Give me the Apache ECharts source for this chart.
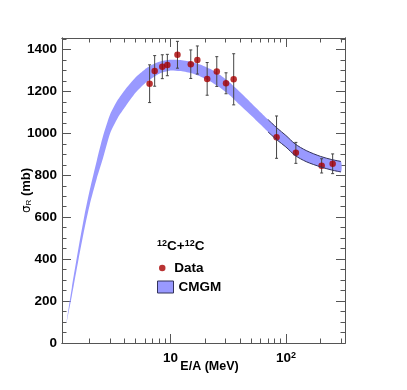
<!DOCTYPE html>
<html>
<head>
<meta charset="utf-8">
<script src="https://cdn.jsdelivr.net/npm/echarts@6/dist/echarts.min.js"></script>
<style>
  html, body { margin: 0; background: #fff; }
  #chart { width: 407px; height: 390px; }
</style>
</head>
<body>
<div id="chart"></div>
<script>
// 12C+12C reaction cross section: data points and CMGM band
const dataEnergy = [6.6, 7.3, 8.5, 9.4, 11.5, 15.0, 17.1, 20.8, 25.2, 30.3, 35.3, 83, 122, 204, 254]
const dataSigma = [1237, 1298, 1318, 1326, 1375, 1330, 1350, 1260, 1295, 1239, 1258, 982, 907, 845, 855]
const dataError = [90, 73, 57, 51, 64, 68, 67, 78, 71, 50, 122, 101, 50, 34, 47]

const bandEnergy = [1.26, 1.4, 1.6, 1.8, 2.0, 2.3, 2.6, 3.0, 3.5, 4.0, 5.0, 6.0, 7.0, 8.0, 10, 12, 15, 18, 22, 27, 33, 40, 50, 60, 70, 84, 100, 120, 150, 200, 250, 300]
const bandUpper = [102, 265, 455, 610, 730, 870, 985, 1090, 1160, 1205, 1268, 1305, 1328, 1342, 1351, 1350, 1342, 1329, 1308, 1278, 1240, 1197, 1145, 1102, 1066, 1025, 990, 950, 918, 890, 875, 866]
const bandLower = [97, 225, 400, 545, 660, 785, 880, 1000, 1075, 1122, 1195, 1238, 1265, 1285, 1300, 1297, 1288, 1273, 1249, 1218, 1180, 1135, 1085, 1043, 1007, 968, 935, 895, 865, 840, 825, 816]

const majorTicksX = [10, 100]
const minorTicksX = [2, 3, 4, 5, 6, 7, 8, 9, 20, 30, 40, 50, 60, 70, 80, 90, 200, 300]
const majorTicksY = [0, 200, 400, 600, 800, 1000, 1200, 1400]
const minorTicksY = [50, 100, 150, 250, 300, 350, 450, 500, 550, 650, 700, 750, 850, 900, 950,
  1050, 1100, 1150, 1250, 1300, 1350, 1450]

const font = 'Liberation Sans'
const frameColor = '#555'
const edgeStart = bandEnergy.indexOf(70)

const chart = echarts.init(document.getElementById('chart'))

function makeX(position, ticks, len, withLabels) {
  return {
    type: 'log',
    min: 1.15,
    max: 325,
    position: position,
    axisLine: { show: true, onZero: false, lineStyle: { color: frameColor, width: 1 } },
    axisTick: { show: true, inside: true, length: len, customValues: ticks, lineStyle: { color: frameColor } },
    axisLabel: withLabels ? {
      customValues: majorTicksX,
      margin: 8,
      formatter: v => (v === 100 ? '{n|10}{sup|2}' : '{n|10}'),
      rich: {
        n: { fontFamily: font, fontWeight: 'bold', fontSize: 13.5, color: '#000' },
        sup: { fontFamily: font, fontWeight: 'bold', fontSize: 9, color: '#000', verticalAlign: 'top' },
      },
    } : { show: false },
    splitLine: { show: false },
    name: withLabels ? 'E/A (MeV)' : '',
    nameLocation: 'middle',
    nameGap: 17,
    nameMoveOverlap: false,
    nameTextStyle: { fontFamily: font, fontWeight: 'bold', fontSize: 12.5, color: '#000', padding: [0, 0, 0, 12] },
  }
}

function makeY(position, ticks, len, withLabels) {
  return {
    type: 'value',
    min: 0,
    max: 1455,
    position: position,
    axisLine: { show: true, onZero: false, lineStyle: { color: frameColor, width: 1 } },
    axisTick: { show: true, inside: true, length: len, customValues: ticks, lineStyle: { color: frameColor } },
    axisLabel: withLabels ? {
      customValues: majorTicksY,
      margin: 5,
      formatter: v => String(v),
      fontFamily: font,
      fontWeight: 'bold',
      fontSize: 13.5,
      color: '#000',
    } : { show: false },
    splitLine: { show: false },
    name: withLabels ? '{sig|σ}{sub|R}{b| (mb)}' : '',
    nameLocation: 'middle',
    nameRotate: 90,
    nameGap: 29,
    nameMoveOverlap: false,
    nameTextStyle: {
      rich: {
        sig: { fontFamily: 'DejaVu Sans', fontSize: 12, color: '#000' },
        sub: { fontFamily: font, fontSize: 8, color: '#000', verticalAlign: 'bottom' },
        b: { fontFamily: font, fontWeight: 'bold', fontSize: 13, color: '#000' },
      },
    },
  }
}

const option = {
  animation: false,
  grid: { left: 62, right: 62, top: 38, bottom: 47, outerBoundsMode: 'none' },
  xAxis: [
    makeX('bottom', majorTicksX, 9, true),
    makeX('bottom', minorTicksX, 4.5, false),
    makeX('top', majorTicksX, 9, false),
    makeX('top', minorTicksX, 4.5, false),
  ],
  yAxis: [
    makeY('left', majorTicksY, 9, true),
    makeY('left', minorTicksY, 4.5, false),
    makeY('right', majorTicksY, 9, false),
    makeY('right', minorTicksY, 4.5, false),
  ],
  legend: [
    {
      left: 159, top: 261, padding: 0, itemWidth: 14, itemHeight: 6.5,
      data: [{ name: 'Data', icon: 'circle' }],
      textStyle: { fontFamily: font, fontWeight: 'bold', fontSize: 13.5, color: '#000' },
    },
    {
      left: 157, top: 280, padding: 0, itemWidth: 16, itemHeight: 12,
      data: [{ name: 'CMGM', icon: 'rect', itemStyle: { color: '#9999ff', borderColor: '#33335a', borderWidth: 1 } }],
      textStyle: { fontFamily: font, fontWeight: 'bold', fontSize: 13.5, color: '#000' },
    },
  ],
  graphic: [{
    type: 'text',
    left: 157,
    top: 239,
    style: {
      text: '{sup|12}{c|C+}{sup|12}{c|C}',
      rich: {
        sup: { fontFamily: font, fontWeight: 'bold', fontSize: 9, fill: '#000', verticalAlign: 'top' },
        c: { fontFamily: font, fontWeight: 'bold', fontSize: 13.5, fill: '#000' },
      },
    },
  }],
  series: [
    {
      name: 'CMGM',
      type: 'custom',
      silent: true,
      itemStyle: { color: '#9999ff' },
      encode: { x: 0, y: [1, 2] },
      data: bandEnergy.map((e, i) => [e, bandLower[i], bandUpper[i]]),
      renderItem: (params, api) => {
        if (params.dataIndex !== 0) return
        const top = bandEnergy.map((e, i) => api.coord([e, bandUpper[i]]))
        const bottom = bandEnergy.map((e, i) => api.coord([e, bandLower[i]])).reverse()
        return {
          type: 'polygon',
          shape: { points: top.concat(bottom), smooth: 0.2 },
          style: { fill: '#9999ff' },
        }
      },
    },
    {
      name: 'upperEdge',
      type: 'line',
      smooth: 0.3,
      symbol: 'none',
      silent: true,
      lineStyle: { color: '#33335a', width: 1 },
      data: bandEnergy.slice(edgeStart).map((e, i) => [e, bandUpper[edgeStart + i]]),
    },
    {
      name: 'lowerEdge',
      type: 'line',
      smooth: 0.3,
      symbol: 'none',
      silent: true,
      lineStyle: { color: '#33335a', width: 1 },
      data: bandEnergy.slice(edgeStart).map((e, i) => [e, bandLower[edgeStart + i]]),
    },
    {
      name: 'errors',
      type: 'custom',
      silent: true,
      encode: { x: 0, y: 1 },
      data: dataEnergy.map((e, i) => [e, dataSigma[i], dataError[i]]),
      renderItem: (params, api) => {
        const x = api.value(0)
        const y = api.value(1)
        const err = api.value(2)
        const hi = api.coord([x, y + err])
        const lo = api.coord([x, y - err])
        const st = { stroke: '#444', lineWidth: 1 }
        return {
          type: 'group',
          children: [
            { type: 'line', shape: { x1: hi[0], y1: hi[1], x2: lo[0], y2: lo[1] }, style: st },
            { type: 'line', shape: { x1: hi[0] - 1.5, y1: hi[1], x2: hi[0] + 1.5, y2: hi[1] }, style: st },
            { type: 'line', shape: { x1: lo[0] - 1.5, y1: lo[1], x2: lo[0] + 1.5, y2: lo[1] }, style: st },
          ],
        }
      },
    },
    {
      name: 'Data',
      type: 'scatter',
      symbolSize: 6.5,
      itemStyle: { color: '#a80000' },
      data: dataEnergy.map((e, i) => [e, dataSigma[i]]),
    },
  ],
}

chart.setOption(option)
</script>
</body>
</html>
